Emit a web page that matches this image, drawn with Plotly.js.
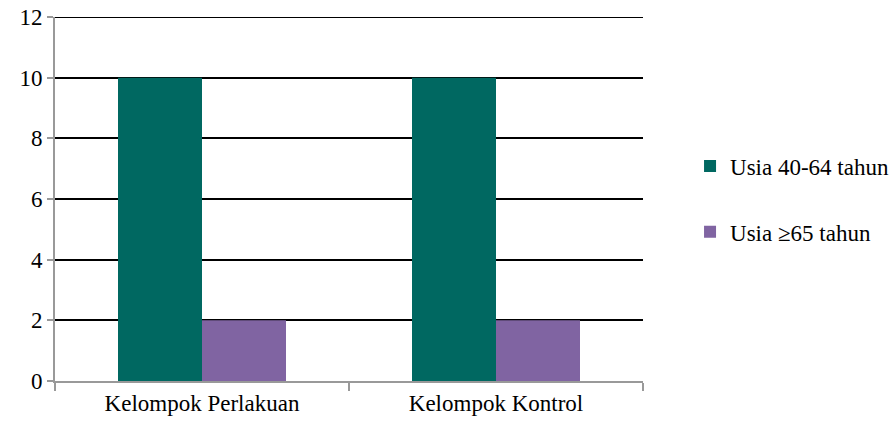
<!DOCTYPE html>
<html><head><meta charset="utf-8">
<script src="https://cdn.plot.ly/plotly-3.0.1.min.js"></script>
<style>body{margin:0}</style></head>
<body><div id="chart" style="width:895px;height:425px"></div>
<script>
const categories = ["Kelompok Perlakuan", "Kelompok Kontrol"];
const seriesNames = ["Usia 40-64 tahun", "Usia \u226565 tahun"];
const usia40_64 = [10, 10];
const usia65 = [2, 2];
const yTicks = [0, 2, 4, 6, 8, 10, 12];

const SERIF = "Liberation Serif";
function mkFont() { return {family: SERIF, size: 23, color: "#000000"}; }
const data = [
  {type: "bar", x: categories, y: usia40_64, name: seriesNames[0], marker: {color: "#006861"}, legendgroup: "a"},
  {type: "bar", x: categories, y: usia65, name: seriesNames[1], marker: {color: "#8064A2"}, legendgroup: "b"}
];
const layout = {
  width: 895, height: 425,
  margin: {l: 55, r: 252, t: 17, b: 44, autoexpand: false},
  paper_bgcolor: "#fff", plot_bgcolor: "#fff",
  font: mkFont(),
  barmode: "group", bargap: 0.4286, bargroupgap: 0,
  showlegend: true,
  legend: {x: 1.08, y: 0.5, xanchor: "left", yanchor: "middle", font: mkFont(), tracegroupgap: 33, itemwidth: 30},
  shapes: [{type: "line", xref: "paper", yref: "y", x0: 0, x1: 1, y0: yTicks[yTicks.length-1], y1: yTicks[yTicks.length-1], line: {color: "#000", width: 2}}],
  xaxis: {type: "category", showline: true, linecolor: "#999", linewidth: 2, ticks: "outside", tickson: "boundaries", ticklen: 8, tickcolor: "#999", tickwidth: 2, showgrid: false, tickfont: mkFont()},
  yaxis: {range: [0, 12], tickvals: yTicks, ticksuffix: "\u2009\u2009", showline: true, linecolor: "#999", linewidth: 2, ticks: "outside", ticklen: 6, tickcolor: "#999", tickwidth: 2, showgrid: true, gridcolor: "#000", gridwidth: 2, zeroline: false, tickfont: mkFont()}
};
Plotly.newPlot("chart", data, layout, {displayModeBar: false}).then(function (gd) {
  gd.querySelectorAll("text").forEach(function (t) {
    t.style.setProperty("font-family", SERIF, "important");
    t.setAttribute("font-family", SERIF);
  });
});
</script></body></html>
